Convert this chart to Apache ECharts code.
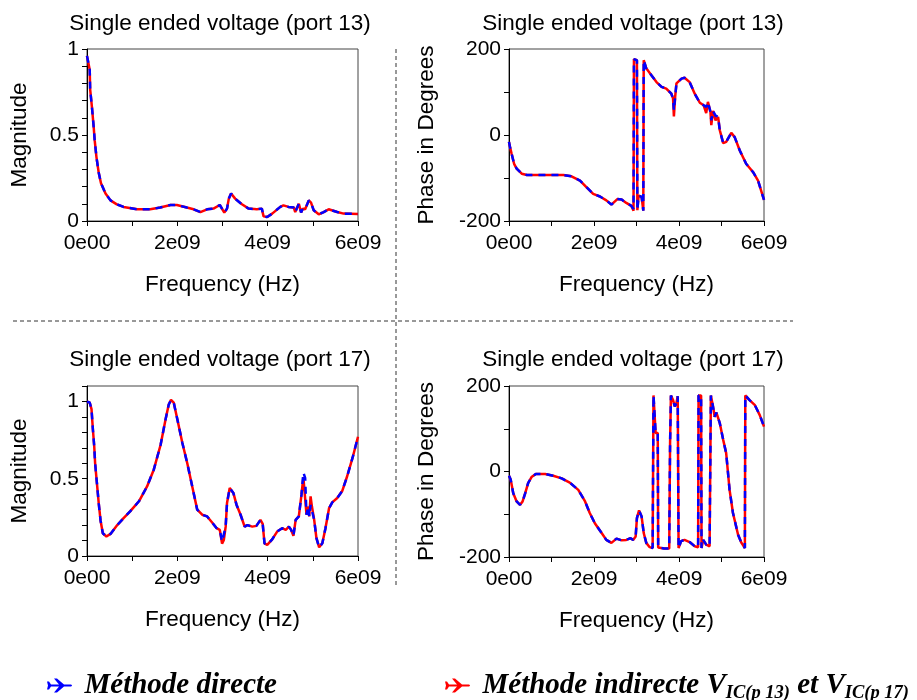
<!DOCTYPE html>
<html>
<head>
<meta charset="utf-8">
<script src="https://cdn.jsdelivr.net/npm/echarts@6/dist/echarts.min.js"></script>
<style>
html, body { margin: 0; padding: 0; background: #fff; }
#chart { width: 917px; height: 700px; }
</style>
</head>
<body>
<div id="chart"></div>
<script>
// frequencies are in GHz, the axis labels print them as "2e09" etc.

// port 13 magnitude
var freq13Mag = [0, 0.06, 0.07, 0.11, 0.15, 0.17, 0.21, 0.26, 0.31, 0.41, 0.52, 0.66, 0.81, 1.11, 1.40, 1.62, 1.85, 1.99, 2.21, 2.36, 2.51, 2.66, 2.80, 2.94, 3.04, 3.10, 3.14, 3.19, 3.28, 3.43, 3.58, 3.76, 3.87, 3.91, 3.99, 4.10, 4.28, 4.35, 4.46, 4.58, 4.61, 4.69, 4.74, 4.78, 4.83, 4.91, 4.96, 5.02, 5.13, 5.24, 5.35, 5.54, 5.68, 6.0];
var mag13Direct = [0.96, 0.88, 0.765, 0.66, 0.54, 0.47, 0.37, 0.28, 0.22, 0.16, 0.12, 0.097, 0.082, 0.068, 0.068, 0.078, 0.093, 0.093, 0.078, 0.068, 0.052, 0.068, 0.072, 0.093, 0.049, 0.072, 0.13, 0.16, 0.13, 0.097, 0.072, 0.068, 0.072, 0.027, 0.023, 0.043, 0.082, 0.091, 0.082, 0.078, 0.052, 0.10, 0.05, 0.072, 0.068, 0.12, 0.107, 0.062, 0.039, 0.052, 0.068, 0.052, 0.043, 0.041];
var mag13Indirect = mag13Direct; // both curves coincide here

// port 13 phase
var freq13Ph = [0, 0.02, 0.06, 0.12, 0.18, 0.30, 0.42, 0.81, 1.28, 1.47, 1.67, 1.82, 1.98, 2.14, 2.29, 2.41, 2.55, 2.65, 2.76, 2.88, 2.93, 2.94, 3.01, 3.02, 3.05, 3.12, 3.16, 3.17, 3.23, 3.35, 3.47, 3.59, 3.70, 3.82, 3.86, 3.88, 3.91, 3.94, 4.06, 4.13, 4.25, 4.37, 4.49, 4.58, 4.64, 4.68, 4.74, 4.76, 4.80, 4.86, 4.92, 4.96, 5.04, 5.11, 5.23, 5.31, 5.43, 5.58, 5.74, 5.86, 6.0];
var ph13Direct = [-16, -26, -43, -67, -78, -90, -93, -93, -93, -96, -106, -121, -137, -143, -152, -162, -149, -150, -158, -165, -172, 176, 174, -175, -141, -144, -176, 174, 155, 139, 123, 112, 108, 96, 85, 57, 89, 120, 131, 133, 123, 96, 75, 69, 65, 77, 54, 34, 56, 45, 42, 11, -19, -16, 5, -5, -36, -67, -86, -106, -151];
var ph13Indirect = [-16, -26, -43, -67, -78, -90, -93, -93, -93, -96, -106, -121, -137, -143, -152, -162, -149, -150, -158, -165, -176, 176, 174, -175, -141, -144, -176, 174, 155, 139, 123, 112, 108, 96, 85, 43, 89, 120, 131, 133, 123, 96, 75, 69, 51, 77, 54, 23, 56, 34, 42, 11, -19, -16, 5, -5, -36, -67, -86, -106, -151];

// port 17 magnitude
var freq17Mag = [0, 0.06, 0.10, 0.13, 0.16, 0.18, 0.22, 0.26, 0.30, 0.35, 0.43, 0.52, 0.67, 0.81, 0.96, 1.15, 1.33, 1.48, 1.63, 1.74, 1.81, 1.86, 1.92, 2.00, 2.11, 2.22, 2.33, 2.44, 2.55, 2.66, 2.77, 2.87, 2.94, 2.99, 3.03, 3.07, 3.10, 3.16, 3.24, 3.31, 3.40, 3.49, 3.55, 3.66, 3.75, 3.84, 3.89, 3.93, 3.99, 4.10, 4.21, 4.32, 4.40, 4.47, 4.52, 4.57, 4.62, 4.69, 4.75, 4.79, 4.83, 4.86, 4.90, 4.92, 4.95, 4.98, 5.03, 5.08, 5.14, 5.21, 5.28, 5.36, 5.43, 5.54, 5.65, 5.76, 5.88, 6.0];
var mag17Direct = [0.998, 0.993, 0.95, 0.82, 0.71, 0.60, 0.47, 0.34, 0.23, 0.147, 0.126, 0.143, 0.20, 0.245, 0.29, 0.354, 0.45, 0.56, 0.72, 0.885, 0.98, 1.01, 0.993, 0.885, 0.733, 0.60, 0.45, 0.30, 0.267, 0.256, 0.217, 0.18, 0.169, 0.093, 0.104, 0.19, 0.343, 0.44, 0.408, 0.332, 0.267, 0.19, 0.20, 0.19, 0.195, 0.234, 0.208, 0.082, 0.072, 0.108, 0.158, 0.18, 0.169, 0.19, 0.169, 0.13, 0.234, 0.256, 0.40, 0.54, 0.505, 0.267, 0.32, 0.256, 0.33, 0.32, 0.234, 0.115, 0.056, 0.082, 0.18, 0.31, 0.347, 0.375, 0.42, 0.516, 0.636, 0.772];
var mag17Indirect = [0.998, 0.993, 0.95, 0.82, 0.71, 0.60, 0.47, 0.34, 0.23, 0.147, 0.126, 0.143, 0.20, 0.245, 0.29, 0.354, 0.45, 0.56, 0.72, 0.885, 0.98, 1.01, 0.993, 0.885, 0.733, 0.60, 0.45, 0.30, 0.267, 0.256, 0.217, 0.18, 0.169, 0.08, 0.104, 0.19, 0.343, 0.44, 0.408, 0.332, 0.267, 0.19, 0.20, 0.19, 0.195, 0.234, 0.208, 0.082, 0.072, 0.108, 0.158, 0.18, 0.169, 0.19, 0.169, 0.13, 0.234, 0.256, 0.40, 0.51, 0.505, 0.267, 0.32, 0.256, 0.386, 0.32, 0.234, 0.115, 0.056, 0.082, 0.18, 0.31, 0.347, 0.375, 0.42, 0.516, 0.636, 0.772];

// port 17 phase
var freq17Ph = [0, 0.04, 0.10, 0.18, 0.26, 0.32, 0.38, 0.45, 0.53, 0.63, 0.85, 1.04, 1.24, 1.43, 1.63, 1.79, 1.90, 2.02, 2.18, 2.29, 2.41, 2.53, 2.65, 2.76, 2.86, 2.92, 2.98, 3.01, 3.06, 3.12, 3.17, 3.23, 3.31, 3.38, 3.40, 3.44, 3.45, 3.50, 3.51, 3.65, 3.77, 3.79, 3.81, 3.86, 3.90, 3.94, 3.97, 3.98, 3.99, 4.05, 4.13, 4.25, 4.37, 4.45, 4.46, 4.52, 4.53, 4.57, 4.64, 4.72, 4.74, 4.75, 4.80, 4.84, 4.88, 4.92, 4.96, 5.04, 5.11, 5.19, 5.27, 5.39, 5.47, 5.55, 5.56, 5.66, 5.78, 5.90, 6.0];
var ph17Direct = [-10, -19, -51, -70, -78, -70, -51, -27, -13, -6, -6, -10, -16, -26, -43, -70, -97, -121, -144, -160, -167, -157, -161, -160, -156, -160, -152, -109, -91, -105, -144, -167, -177, -179, 178, 178, 90, 90, -178, -180, -180, 66, 178, 167, 152, 160, 176, 176, -179, -163, -160, -165, -175, -177, 178, 178, -179, -160, -171, -175, -175, 178, 152, 128, 138, 136, 113, 74, 43, -43, -97, -148, -167, -179, 178, 167, 156, 132, 105];
var ph17Indirect = ph17Direct; // both curves coincide here

var directName = "Méthode directe",
	indirectName = "Méthode indirecte",
	xTicks = ["0e00", "2e09", "4e09", "6e09"];

var sans = "Liberation Sans",
	serif = "Liberation Serif",
	blue = "#0000ff",
	red = "#ff0000";

function pairs(xs, ys) {
	return xs.map(function(x, i) {
		return [x, ys[i]];
	});
}

var panels = [
	{ left: 87, top: 49, width: 271, height: 172, title: "Single ended voltage (port 13)", tx: 220, ttop: 12, phase: false, max: 1, x: freq13Mag, d: mag13Direct, r: mag13Indirect },
	{ left: 509, top: 49, width: 255, height: 172, title: "Single ended voltage (port 13)", tx: 633, ttop: 12, phase: true, x: freq13Ph, d: ph13Direct, r: ph13Indirect },
	{ left: 87, top: 386, width: 271, height: 170, title: "Single ended voltage (port 17)", tx: 220, ttop: 348, phase: false, max: 1.1, x: freq17Mag, d: mag17Direct, r: mag17Indirect },
	{ left: 509, top: 386, width: 255, height: 171, title: "Single ended voltage (port 17)", tx: 633, ttop: 348, phase: true, x: freq17Ph, d: ph17Direct, r: ph17Indirect }
];

var opt = {
	animation: false,
	backgroundColor: "#fff",
	title: [],
	grid: [],
	xAxis: [],
	yAxis: [],
	series: [],
	legend: [],
	graphic: []
};

var nameStyle = { fontFamily: sans, fontSize: 22.5, color: "#000" };

panels.forEach(function(p, i) {
	opt.title.push({
		text: p.title,
		left: p.tx,
		top: p.ttop,
		padding: 0,
		textAlign: "center",
		textStyle: { fontFamily: sans, fontSize: 22.5, fontWeight: "normal", color: "#000" }
	});
	opt.grid.push({
		left: p.left,
		top: p.top,
		width: p.width,
		height: p.height,
		show: true,
		borderColor: "#444",
		borderWidth: 1,
		backgroundColor: "transparent"
	});
	opt.xAxis.push({
		type: "value",
		gridIndex: i,
		min: 0,
		max: 6,
		interval: 2,
		name: "Frequency (Hz)",
		nameLocation: "middle",
		nameGap: 52,
		nameTextStyle: nameStyle,
		axisLine: { onZero: false, lineStyle: { color: "#000", width: 1 } },
		axisTick: { show: true, length: 5, lineStyle: { color: "#000" } },
		minorTick: { show: true, splitNumber: 2, length: 5, lineStyle: { color: "#000" } },
		splitLine: { show: false },
		axisLabel: {
			margin: 12,
			fontFamily: sans,
			fontSize: 21,
			color: "#000",
			formatter: function(v) {
				return xTicks[Math.round(v / 2)];
			}
		}
	});
	opt.yAxis.push({
		type: "value",
		gridIndex: i,
		min: p.phase ? -200 : 0,
		max: p.phase ? 200 : p.max,
		interval: p.phase ? 200 : 0.5,
		name: p.phase ? "Phase in Degrees" : "Magnitude",
		nameLocation: "middle",
		nameGap: p.phase ? 71 : 56,
		nameTextStyle: nameStyle,
		axisLine: { show: true, onZero: false, lineStyle: { color: "#000", width: 1 } },
		axisTick: { show: true, length: 5, lineStyle: { color: "#000" } },
		minorTick: { show: true, splitNumber: p.phase ? 2 : 5, length: 5, lineStyle: { color: "#000" } },
		splitLine: { show: false },
		axisLabel: {
			margin: 8,
			fontFamily: sans,
			fontSize: 21,
			color: "#000",
			showMaxLabel: p.max === 1.1 ? false : true
		}
	});
	opt.series.push({
		name: indirectName,
		type: "line",
		xAxisIndex: i,
		yAxisIndex: i,
		data: pairs(p.x, p.r),
		showSymbol: false,
		symbol: "none",
		color: red,
		itemStyle: { color: red },
		lineStyle: { color: red, width: 2.5 }
	});
	opt.series.push({
		name: directName,
		type: "line",
		xAxisIndex: i,
		yAxisIndex: i,
		data: pairs(p.x, p.d),
		showSymbol: false,
		symbol: "none",
		color: blue,
		itemStyle: { color: blue },
		lineStyle: { color: blue, width: 2.5, type: [7, 6] }
	});
});

// little plane used as legend marker
var plane = "path://M0,3 L2,3 L4,6 L12,6 L7,0 L10,0 L17,6 L24,6 Q26,7 24,8 L17,8 L10,14 L7,14 L12,8 L4,8 L2,11 L0,11 L1,7 Z";

var legendText = {
	fontFamily: serif,
	fontSize: 29,
	fontStyle: "italic",
	fontWeight: "bold",
	color: "#000",
	lineHeight: 35,
	padding: [0, 0, 0, 7],
	rich: {
		s: {
			fontFamily: serif,
			fontSize: 18.5,
			fontStyle: "italic",
			fontWeight: "bold",
			color: "#000",
			lineHeight: 35,
			verticalAlign: "bottom"
		}
	}
};

opt.legend.push({
	left: 47,
	top: 668,
	padding: [0, 0, 0, 0],
	selectedMode: false,
	icon: plane,
	itemWidth: 26,
	itemHeight: 14,
	data: [directName],
	textStyle: legendText
});
opt.legend.push({
	left: 445,
	top: 668,
	padding: [0, 0, 0, 0],
	selectedMode: false,
	icon: plane,
	itemWidth: 26,
	itemHeight: 14,
	data: [indirectName],
	formatter: function(name) {
		return name + " V{s|IC(p 13)} et V{s|IC(p 17)}";
	},
	textStyle: legendText
});

// dashed separators between the four plots
opt.graphic.push({
	type: "line",
	shape: { x1: 13, y1: 321, x2: 793, y2: 321 },
	style: { stroke: "#333", lineWidth: 1, lineDash: [4, 3] }
});
opt.graphic.push({
	type: "line",
	shape: { x1: 396, y1: 49, x2: 396, y2: 588 },
	style: { stroke: "#333", lineWidth: 1, lineDash: [4, 3] }
});

var chart = echarts.init(document.getElementById("chart"), null, { renderer: "canvas" });
chart.setOption(opt);
</script>
</body>
</html>
